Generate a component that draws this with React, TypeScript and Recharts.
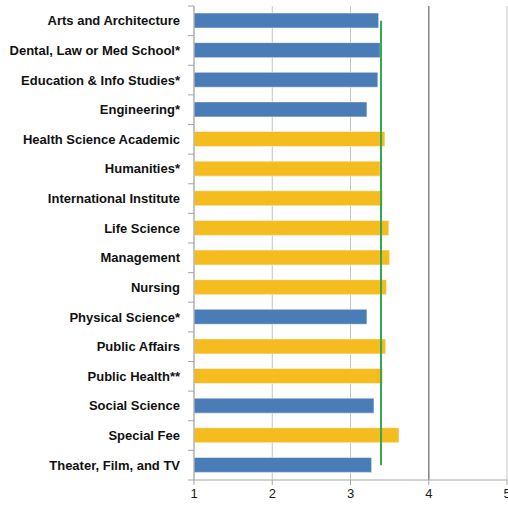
import { ComposedChart, Bar, Line, XAxis, YAxis, CartesianGrid, ReferenceLine, Cell } from "recharts";

const categories = [
  "Arts and Architecture",
  "Dental, Law or Med School*",
  "Education & Info Studies*",
  "Engineering*",
  "Health Science Academic",
  "Humanities*",
  "International Institute",
  "Life Science",
  "Management",
  "Nursing",
  "Physical Science*",
  "Public Affairs",
  "Public Health**",
  "Social Science",
  "Special Fee",
  "Theater, Film, and TV",
];

const scores = [3.36, 3.38, 3.35, 3.21, 3.44, 3.38, 3.41, 3.49, 3.5, 3.46, 3.21, 3.45, 3.41, 3.3, 3.62, 3.27];

// "b" = blue group, "y" = yellow group
const groups = ["b", "b", "b", "b", "y", "y", "y", "y", "y", "y", "b", "y", "y", "b", "y", "b"];

const average = 3.39;
const xTicks = [1, 2, 3, 4, 5];

const BLUE = "#4a7db7";
const YELLOW = "#f5bc1f";
const AXIS = "#a6a6a6";

const W = 508;
const H = 506;
const TOP = 6;
const XAXIS_H = 26;
const band = (H - TOP - XAXIS_H) / categories.length;

const data = categories.map((name, i) => ({
  name,
  score: scores[i],
  avg: average,
  group: groups[i],
}));

function CategoryTick(props: any) {
  const { x, y, payload, index } = props;
  return (
    <g>
      <text
        x={x - 14}
        y={y}
        textAnchor="end"
        dominantBaseline="central"
        fontFamily="'Liberation Sans', Arial, sans-serif"
        fontWeight="bold"
        fontSize={13}
        fill="#111"
      >
        {payload.value}
      </text>
      <line x1={x - 6} x2={x} y1={y - band / 2} y2={y - band / 2} stroke={AXIS} />
      {index === categories.length - 1 && (
        <line x1={x - 6} x2={x} y1={y + band / 2} y2={y + band / 2} stroke={AXIS} />
      )}
    </g>
  );
}

export default function App() {
  return (
    <div style={{ position: "absolute", left: 0, top: 0, width: W, height: H, background: "#fff" }}>
      <ComposedChart
        width={W}
        height={H}
        data={data}
        layout="vertical"
        margin={{ top: TOP, right: 1, bottom: 0, left: 0 }}
        barCategoryGap={0}
      >
        <CartesianGrid horizontal={false} stroke="#c4c4c4" />
        <XAxis
          type="number"
          domain={[1, 5]}
          ticks={xTicks}
          height={XAXIS_H}
          tickSize={5}
          tickMargin={4}
          stroke={AXIS}
          tick={{ fontSize: 13, fill: "#1a1a1a", fontFamily: "'Liberation Sans', Arial, sans-serif" }}
          interval={0}
        />
        <YAxis
          type="category"
          dataKey="name"
          width={194}
          tickSize={0}
          tickMargin={0}
          tickLine={false}
          stroke={AXIS}
          interval={0}
          tick={<CategoryTick />}
        />
        <ReferenceLine x={4} stroke="#8a8a8a" strokeWidth={1.5} />
        <Bar dataKey="score" barSize={15} isAnimationActive={false} stroke="#ffffff" strokeOpacity={0.5}>
          {data.map((d, i) => (
            <Cell key={`cell-${i}`} fill={d.group === "b" ? BLUE : YELLOW} />
          ))}
        </Bar>
        <Line dataKey="avg" stroke="#34a853" strokeWidth={2} dot={false} isAnimationActive={false} />
      </ComposedChart>
    </div>
  );
}
